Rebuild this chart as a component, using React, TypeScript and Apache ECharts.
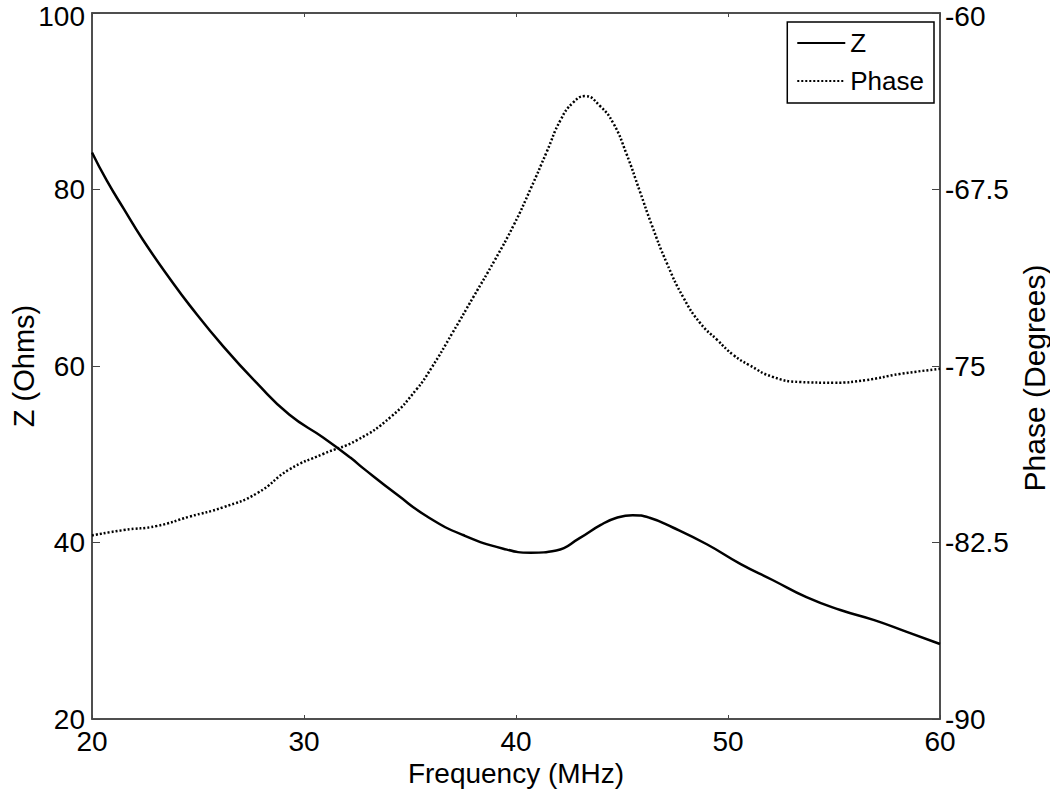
import React, { useEffect, useRef } from "react";
import * as echarts from "echarts";

const zFreq = [20.0, 20.7, 21.5, 22.4, 23.7, 24.6, 26.2, 27.8, 29.3, 30.9, 32.2, 32.8, 34.4, 35.9, 37.5, 39.4, 40.7, 41.9, 43.0, 44.0, 44.75, 45.5, 46.3, 47.4, 49.0, 50.6, 52.1, 53.7, 55.3, 56.9, 58.4, 60.0];
const zValues = [84.2, 81.0, 77.8, 74.3, 69.8, 66.9, 62.2, 58.0, 54.5, 51.9, 49.6, 48.4, 45.4, 42.8, 40.85, 39.3, 38.85, 39.1, 40.5, 42.0, 42.8, 43.1, 42.8, 41.7, 39.8, 37.55, 35.75, 33.8, 32.35, 31.2, 29.9, 28.5];

const phaseFreq = [20.0, 21.5, 23.05, 24.6, 26.2, 27.8, 29.3, 30.9, 32.5, 34.1, 35.3, 36.0, 37.0, 38.0, 39.0, 39.9, 40.7, 41.45, 42.1, 42.7, 43.26, 43.96, 44.6, 45.2, 45.85, 46.4, 47.1, 47.9, 48.7, 49.5, 50.25, 51.0, 52.1, 53.4, 55.0, 56.5, 58.1, 60.0];
const phaseValues = [-82.2, -81.97, -81.8, -81.4, -81.0, -80.4, -79.4, -78.74, -78.15, -77.16, -76.0, -75.1, -73.6, -72.05, -70.5, -69.0, -67.45, -65.9, -64.55, -63.8, -63.53, -63.95, -64.7, -65.96, -67.6, -69.0, -70.6, -72.1, -73.19, -73.9, -74.53, -74.96, -75.46, -75.68, -75.71, -75.6, -75.34, -75.12];

const seriesNames = ["Z", "Phase"];
const xAxisName = "Frequency (MHz)";
const leftAxisName = "Z (Ohms)";
const rightAxisName = "Phase (Degrees)";

const FONT = "'Liberation Sans', Arial, Helvetica, sans-serif";
const AXIS_COLOR = "#444";

export default function App() {
  const ref = useRef<HTMLDivElement>(null);
  useEffect(() => {
    if (!ref.current) return;
    const chart = echarts.init(ref.current, undefined, { renderer: "svg" });
    const zData = zFreq.map((f, i) => [f, zValues[i]]);
    const pData = phaseFreq.map((f, i) => [f, phaseValues[i]]);
    const topRich = { t: { padding: [6, 0, 0, 0], fontSize: 28, fontFamily: FONT, color: "#000" } };
    chart.setOption({
      animation: false,
      backgroundColor: "#fff",
      textStyle: { fontFamily: FONT, color: "#000" },
      grid: {
        left: 92,
        right: 110,
        top: 13,
        bottom: 74,
        containLabel: false,
        outerBoundsMode: "none",
        show: true,
        borderColor: AXIS_COLOR,
        borderWidth: 1.5,
        backgroundColor: "transparent",
      },
      legend: {
        data: seriesNames,
        orient: "vertical",
        right: 116,
        top: 22,
        padding: [8, 10, 9, 9],
        itemGap: 12,
        itemWidth: 48,
        itemHeight: 14,
        borderColor: "#000",
        borderWidth: 1.5,
        borderRadius: 0,
        backgroundColor: "#fff",
        itemStyle: { opacity: 0 },
        textStyle: { fontSize: 26, color: "#000", fontFamily: FONT },
      },
      xAxis: [
        {
          type: "value",
          min: 20,
          max: 60,
          interval: 10,
          position: "bottom",
          name: xAxisName,
          nameLocation: "middle",
          nameGap: 40,
          nameTextStyle: { fontSize: 28, color: "#000", fontFamily: FONT },
          axisLine: { show: true, lineStyle: { color: AXIS_COLOR, width: 1.5 } },
          axisTick: { show: true, inside: true, length: 4, lineStyle: { color: AXIS_COLOR } },
          axisLabel: { fontSize: 28, color: "#000", margin: 8, fontFamily: FONT },
          splitLine: { show: false },
        },
        {
          type: "value",
          min: 20,
          max: 60,
          interval: 10,
          position: "top",
          axisLine: { show: true, lineStyle: { color: AXIS_COLOR, width: 1.5 } },
          axisTick: { show: true, inside: true, length: 4, lineStyle: { color: AXIS_COLOR } },
          axisLabel: { show: false },
          splitLine: { show: false },
        },
      ],
      yAxis: [
        {
          type: "value",
          min: 20,
          max: 100,
          interval: 20,
          position: "left",
          name: leftAxisName,
          nameLocation: "middle",
          nameGap: 54,
          nameMoveOverlap: false,
          nameRotate: 90,
          nameTextStyle: { fontSize: 29, color: "#000", fontFamily: FONT },
          axisLine: { show: true, lineStyle: { color: AXIS_COLOR, width: 1.5 } },
          axisTick: { show: true, inside: true, length: 8, lineStyle: { color: AXIS_COLOR } },
          axisLabel: {
            fontSize: 28,
            color: "#000",
            margin: 7,
            fontFamily: FONT,
            formatter: (v: number) => (v === 100 ? `{t|${v}}` : `${v}`),
            rich: topRich,
          },
          splitLine: { show: false },
        },
        {
          type: "value",
          min: -90,
          max: -60,
          interval: 7.5,
          position: "right",
          name: rightAxisName,
          nameLocation: "middle",
          nameGap: 74,
          nameRotate: 90,
          nameTextStyle: { fontSize: 30, color: "#000", fontFamily: FONT, padding: [0, 24, 0, 0] },
          axisLine: { show: true, lineStyle: { color: AXIS_COLOR, width: 1.5 } },
          axisTick: { show: true, inside: true, length: 8, lineStyle: { color: AXIS_COLOR } },
          axisLabel: {
            fontSize: 28,
            color: "#000",
            margin: 5,
            fontFamily: FONT,
            formatter: (v: number) => (v === -60 ? `{t|${v}}` : `${v}`),
            rich: topRich,
          },
          splitLine: { show: false },
        },
      ],
      series: [
        {
          name: seriesNames[0],
          type: "line",
          xAxisIndex: 0,
          yAxisIndex: 0,
          data: zData,
          symbol: "none",
          smooth: 0.5,
          lineStyle: { color: "#000", width: 2.5, type: "solid" },
          itemStyle: { color: "#000" },
        },
        {
          name: seriesNames[1],
          type: "line",
          xAxisIndex: 0,
          yAxisIndex: 1,
          data: pData,
          symbol: "none",
          smooth: 0.5,
          lineStyle: { color: "#000", width: 2.5, type: [2, 2] },
          itemStyle: { color: "#000" },
        },
      ],
    });
    return () => chart.dispose();
  }, []);
  return (
    <div
      ref={ref}
      style={{ position: "fixed", left: 0, top: 0, width: 1050, height: 793, background: "#fff" }}
    />
  );
}
